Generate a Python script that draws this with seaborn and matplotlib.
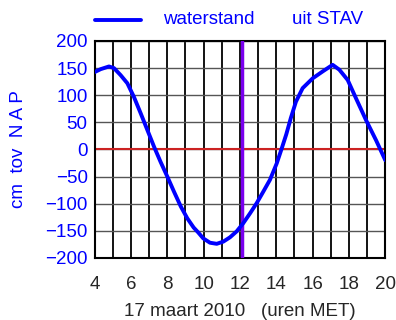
import matplotlib
matplotlib.use("Agg")
import matplotlib.pyplot as plt
from matplotlib.lines import Line2D
import seaborn as sns
import pandas as pd

# waterstand (cm tov NAP)
hours = [3.96, 4.33, 4.79, 5.06, 5.43, 5.80, 6.16, 6.53, 6.90, 7.27, 7.63,
         8.0, 8.37, 8.74, 9.10, 9.45, 9.70, 9.98, 10.35, 10.72, 11.08, 11.45,
         11.82, 12.18, 12.55, 12.92, 13.28, 13.65, 14.02, 14.3, 14.55, 14.8,
         15.08, 15.45, 16.0, 16.56, 17.1, 17.47, 17.93, 18.39, 18.94, 19.49,
         20.0]
level = [142, 148, 153, 150, 137, 122, 97, 67, 36, 5, -23, -50, -78, -105,
         -127, -144, -153, -164, -172, -174, -170, -162, -151, -136, -118, -99,
         -78, -56, -26, 2, 28, 58, 88, 113, 131, 144, 156, 147, 128, 94, 54,
         17, -20]
now_hour = 12.13
x_ticks = [4, 6, 8, 10, 12, 14, 16, 18, 20]
y_ticks = [-200, -150, -100, -50, 0, 50, 100, 150, 200]

sns.set_style("white")
plt.rcParams['font.family'] = ['Liberation Sans', 'DejaVu Sans']

df = pd.DataFrame({"uur": hours, "cm": level})

fig = plt.figure(figsize=(3.96, 3.2), dpi=100)
ax = fig.add_axes([0.239, 0.194, 0.734, 0.678])

# grid: vertical every hour, horizontal every 50 cm
for h in range(4, 21):
    ax.axvline(h, color="black", lw=1.3, zorder=1)
for v in y_ticks:
    ax.axhline(v, color="#555555", lw=1.0, zorder=1)
ax.axhline(0, color="#cc2222", lw=1.5, zorder=2)
ax.axvline(now_hour, color="#7a00ee", lw=2.5, zorder=3)

sns.lineplot(data=df, x="uur", y="cm", ax=ax, color="#0000ff", lw=2.8,
             zorder=4, legend=False)
ax.lines[-1].set_solid_joinstyle("round")

ax.set_xlim(4, 20)
ax.set_ylim(-200, 200)
ax.set_xticks(x_ticks)
ax.set_yticks(y_ticks)
ax.set_yticklabels([str(v).replace("-", "\u2212") for v in y_ticks])
ax.tick_params(axis="both", length=0, labelsize=13.5)
ax.tick_params(axis="x", pad=13)
ax.tick_params(axis="y", labelcolor="#0000ff", pad=5)
ax.set_xlabel("17 maart 2010   (uren MET)", fontsize=13.5, labelpad=7)
ax.set_ylabel("cm  tov  N A P", fontsize=13.5, color="#0000ff", labelpad=13)
for s in ax.spines.values():
    s.set_color("black")
    s.set_linewidth(1.5)

# legend above the plot
fig.add_artist(Line2D([95 / 396, 141 / 396], [1 - 20 / 320, 1 - 20 / 320],
                      color="#0000ff", lw=2.8, transform=fig.transFigure))
fig.text(163 / 396, 1 - 20 / 320, "waterstand", color="#0000ff",
         fontsize=13.5, va="center", ha="left")
fig.text(292 / 396, 1 - 20 / 320, "uit STAV", color="#0000ff",
         fontsize=13.5, va="center", ha="left")

fig.savefig("out.png", dpi=100)
